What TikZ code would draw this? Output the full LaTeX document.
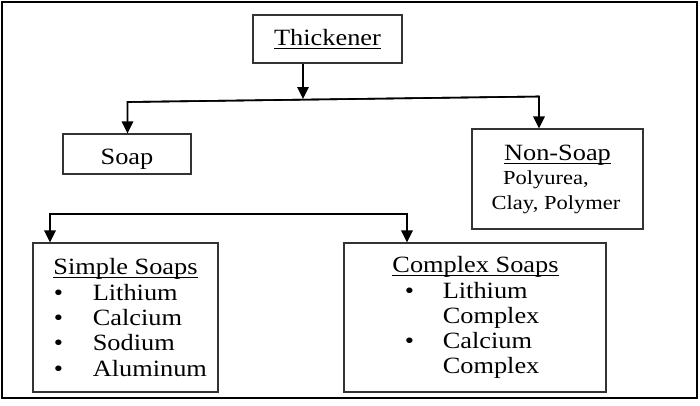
\documentclass[tikz,border=0pt]{standalone}
\usepackage{fontspec}
\setmainfont{Liberation Serif}[FakeStretch=1.13]
\usetikzlibrary{arrows.meta,calc}

% underline drawn close under the baseline
\newcommand\undl[1]{\setbox0\hbox{#1}\rlap{\rule[-3.6bp]{\wd0}{1.1bp}}\box0}

\begin{document}
\begin{tikzpicture}[x=1bp,y=-1bp,line width=1.6bp,>={Triangle[length=12bp,width=11.5bp]},
  box/.style={draw=black!80,line width=1.2bp,inner sep=0pt},
  txt/.style={inner sep=0pt,anchor=base,font=\fontsize{23.4}{25}\selectfont},
  small/.style={txt,font=\fontsize{20}{22}\selectfont}]
\useasboundingbox (0,0) rectangle (700,405);
% ---------- outer frame ----------
\draw[line width=2.8bp] (2,2) rectangle (697,398);
% ---------- boxes ----------
\node[box,minimum width=149bp,minimum height=48bp] (thick) at (327.5,39) {};
\node[box,minimum width=128bp,minimum height=40bp] (soap) at (127,154) {};
\node[box,minimum width=171bp,minimum height=100bp] (nonsoap) at (557.5,179) {};
\node[box,minimum width=185bp,minimum height=149bp] (simple) at (125.5,317.5) {};
\node[box,minimum width=262bp,minimum height=149bp] (complex) at (475,317.5) {};
% ---------- labels ----------
\node[txt] (thicklbl) at (327.5,45) {\undl{Thickener}};
\node[txt] (soaplbl) at (127,164) {Soap};
\node[txt] (nonsoaplbl) at (557.5,160) {\undl{Non-Soap}};
\node[small] (nonsoap1) at (546,184) {Polyurea,};
\node[small] (nonsoap2) at (556,209) {Clay, Polymer};
% simple soaps list
\node[txt] (simplelbl) at (125.5,274) {\undl{Simple Soaps}};
\foreach \name/\y [count=\i] in {Lithium/300,Calcium/325,Sodium/350,Aluminum/376}{
  \node[txt,anchor=base west] (sbul\i) at (53,\y) {\textbullet};
  \node[txt,anchor=base west] (simple\i) at (92,\y) {\name};
}
% complex soaps list
\node[txt] (complexlbl) at (475.5,272) {\undl{Complex Soaps}};
\foreach \name/\y [count=\i] in {Lithium/298,Complex/323,Calcium/348,Complex/373}{
  \node[txt,anchor=base west] (complex\i) at (442,\y) {\name};
}
\node[txt,anchor=base west] (cbul1) at (404,298) {\textbullet};
\node[txt,anchor=base west] (cbul2) at (404,348) {\textbullet};
% ---------- connectors ----------
\coordinate (fork1) at (303,99);
\coordinate (fork1l) at (127.5,102);
\coordinate (fork1r) at (539,96.5);
\draw[->] (thick.south -| fork1) -- (fork1);
\draw[->] (fork1r) -- (fork1l) -- (soap.north -| fork1l);
\draw[->] (fork1l) -- (fork1r) -- (nonsoap.north -| fork1r);
\coordinate (fork2l) at (50,214);
\coordinate (fork2r) at (407,214);
\draw[->] (fork2r) -- (fork2l) -- (simple.north -| fork2l);
\draw[->] (fork2l) -- (fork2r) -- (complex.north -| fork2r);
\end{tikzpicture}
\end{document}
